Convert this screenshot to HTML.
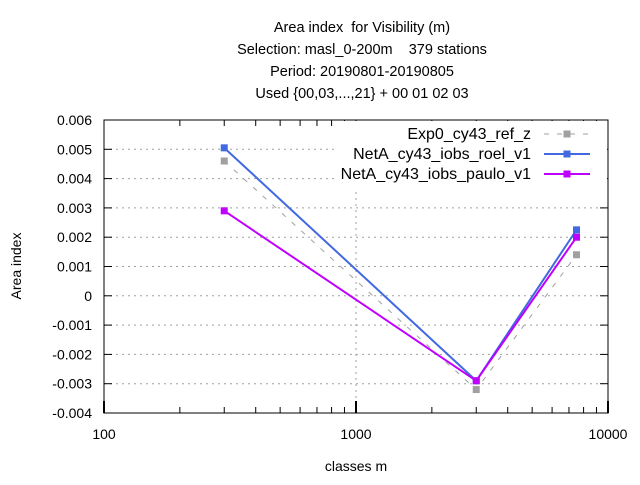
<!DOCTYPE html>
<html><head><meta charset="utf-8"><style>
body{margin:0;background:#fff}
svg text{font-family:"Liberation Sans",sans-serif;font-size:14px;fill:#000;white-space:pre}
</style></head><body>
<svg width="640" height="480" xmlns="http://www.w3.org/2000/svg">
<g text-anchor="middle">
<text x="362" y="32" style="font-size:14.5px">Area index  for Visibility (m)</text>
<text x="362" y="54" style="font-size:14.5px">Selection: masl_0-200m    379 stations</text>
<text x="362" y="76" style="font-size:14.5px">Period: 20190801-20190805</text>
<text x="362" y="98" style="font-size:14.5px">Used {00,03,...,21} + 00 01 02 03</text>
</g>
<g id="grid"></g>
<g id="axes"></g>
<rect x="334" y="121" width="273" height="70" fill="#fff"/>
<g id="series"></g>
<g id="legend"></g>
<text x="356" y="471" text-anchor="middle">classes m</text>
<text transform="translate(21,266) rotate(-90)" text-anchor="middle">Area index</text>
</svg>
<script>
const categories=[300,3000,7500];
const seriesNames=["Exp0_cy43_ref_z","NetA_cy43_iobs_roel_v1","NetA_cy43_iobs_paulo_v1"];
const exp0=[0.0046,-0.0032,0.0014];
const roel=[0.00505,-0.0029,0.00225];
const paulo=[0.0029,-0.0029,0.0020];
const yTicks=[0.006,0.005,0.004,0.003,0.002,0.001,0,-0.001,-0.002,-0.003,-0.004];
const yTickLabels=["0.006","0.005","0.004","0.003","0.002","0.001","0","-0.001","-0.002","-0.003","-0.004"];
const xTicks=[100,1000,10000];
const xTickLabels=["100","1000","10000"];
const L=104,R=608,T=120,B=413;
const X=v=>L+(Math.log10(v)-2)/2*(R-L);
const Y=v=>T+(0.006-v)/0.010*(B-T);
const NS="http://www.w3.org/2000/svg";
function mk(p,t,a){const e=document.createElementNS(NS,t);for(const k in a)e.setAttribute(k,a[k]);document.getElementById(p).appendChild(e);return e;}
yTicks.forEach((v,i)=>{
 if(i>0&&i<yTicks.length-1){const g=mk('grid','line',{x1:L,x2:R,y1:Y(v),y2:Y(v),stroke:'#a0a0a0','stroke-dasharray':'2,4'});
 
 }
 const t=mk('axes','text',{x:92,y:Y(v)+5,'text-anchor':'end'});t.textContent=yTickLabels[i];
 
 
 mk('axes','line',{x1:L,x2:L+8,y1:Y(v),y2:Y(v),stroke:'#000'});
 mk('axes','line',{x1:R,x2:R-8,y1:Y(v),y2:Y(v),stroke:'#000'});
});
const vg=mk('grid','line',{x1:X(1000),x2:X(1000),y1:T,y2:B,stroke:'#a0a0a0','stroke-dasharray':'2,4'});


xTicks.forEach((v,i)=>{
 const t=mk('axes','text',{x:X(v),y:439,'text-anchor':'middle'});t.textContent=xTickLabels[i];
 
 
 mk('axes','line',{x1:X(v),x2:X(v),y1:B,y2:B-12,stroke:'#000','stroke-width':2});
 mk('axes','line',{x1:X(v),x2:X(v),y1:T,y2:T+12,stroke:'#000'});
 if(v<10000)for(let m=2;m<10;m++){const xx=X(v*m);
  mk('axes','line',{x1:xx,x2:xx,y1:B,y2:B-6,stroke:'#000'});
  mk('axes','line',{x1:xx,x2:xx,y1:T,y2:T+6,stroke:'#000'});}
});
mk('axes','rect',{x:L,y:T,width:R-L,height:B-T,fill:'none',stroke:'#000'});
const data=[exp0,roel,paulo];
const colors=['#a0a0a0','#4169e1','#c000ff'];
const dash=['5,8','',''];
const widths=[1,2,2];
data.forEach((d,s)=>{
 const pts=d.map((v,i)=>X(categories[i])+','+Y(v)).join(' ');
 const pl=mk('series','polyline',{points:pts,fill:'none',stroke:colors[s],'stroke-width':widths[s],'stroke-dasharray':dash[s]});
 
 
 d.forEach((v,i)=>{const r=mk('series','rect',{x:X(categories[i])-3.5,y:Y(v)-3.5,width:7,height:7,fill:colors[s]});
  
  });
 const ly=134+s*20;
 const lt=mk('legend','text',{x:531,y:ly+5,'text-anchor':'end',style:'font-size:16px'});lt.textContent=seriesNames[s];
 
 
 mk('legend','line',{x1:544,x2:590,y1:ly,y2:ly,stroke:colors[s],'stroke-width':widths[s],'stroke-dasharray':dash[s]});
 mk('legend','rect',{x:563.5,y:ly-3.5,width:7,height:7,fill:colors[s]});
});
</script>
</body></html>
